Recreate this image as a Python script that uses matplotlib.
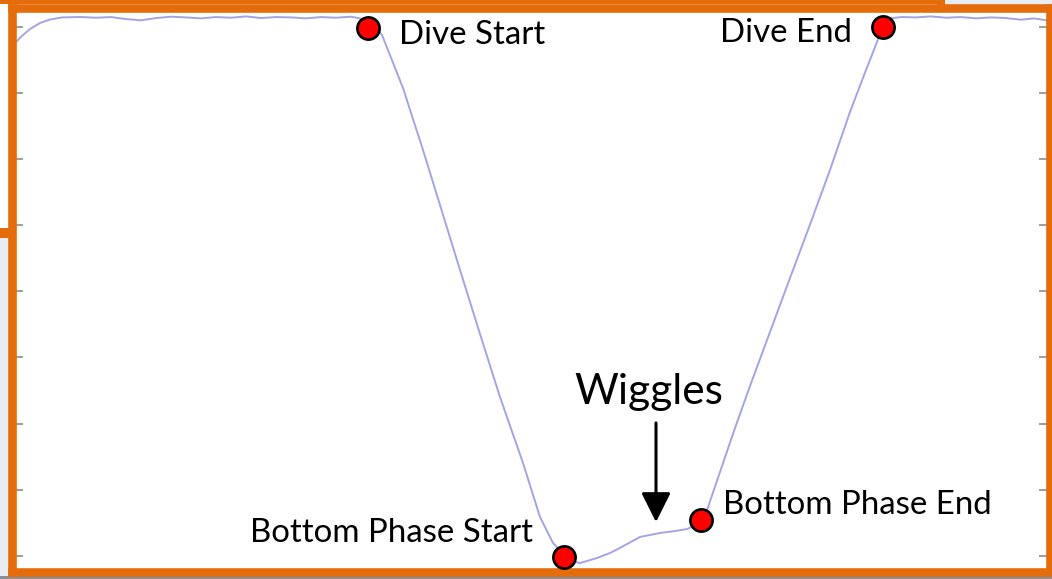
import matplotlib
matplotlib.use("Agg")
import matplotlib.pyplot as plt
from matplotlib.patches import Rectangle

plt.rcParams["font.family"] = ["Lato", "DejaVu Sans"]

# dive profile: time (s) vs depth (m)
time = [0, 6, 14, 24, 34, 46, 64, 80, 95, 110, 125, 140, 155, 170, 185, 200,
        215, 230, 245, 260, 275, 290, 305, 320, 335, 344, 356, 366, 387, 407,
        424, 444, 464, 484, 507, 524, 537, 547, 556, 564, 581, 594, 604, 624,
        644, 659, 671, 684, 691, 704, 719, 734, 754, 774, 792, 814, 834, 850,
        861, 866, 870, 885, 900, 915, 930, 945, 960, 975, 990, 1005, 1018, 1031]
depth = [2.27, 1.36, 0.30, -0.6, -1.13, -1.44, -1.51, -1.4, -1.5, -1.2, -1.0,
         -1.35, -1.55, -1.45, -1.3, -1.5, -1.4, -1.6, -1.35, -1.5, -1.45, -1.3,
         -1.5, -1.4, -1.55, -1.3, -0.5, 1.21, 9.23, 18.61, 26.93, 36.76, 46.44,
         55.98, 65.96, 74.13, 78.06, 79.58, 80.79, 81.1, 80.33, 79.58, 78.8,
         77.15, 76.55, 76.25, 75.95, 75.04, 73.07, 67.32, 60.67, 54.31, 46.14,
         37.97, 30.71, 21.63, 12.86, 6.51, 2.27, 0.15, -1.2, -1.5, -1.45, -1.6,
         -1.4, -1.5, -1.3, -1.45, -1.35, -1.1, -1.3, -1.0]

# phase events
event_names = ["Dive Start", "Bottom Phase Start", "Bottom Phase End", "Dive End"]
event_time = [352, 548, 685, 867]
event_depth = [0.15, 80.2, 74.6, 0.0]
label_offset = [(22, -11.5), (-22, 11), (16, 4.5), (-22, -11)]
label_ha = ["left", "right", "left", "right"]

wiggle_time = 640
wiggle_tip = 74.9
wiggle_tail = 59.9
wiggle_text_depth = 57.0

orange = "#e46c0a"
W, H = 1052, 579

fig = plt.figure(figsize=(W / 100, H / 100), dpi=100, facecolor="#e9edf2")

def px(x0, y0, x1, y1, **kw):
    # rectangle given in image pixels (top-left origin)
    return Rectangle((x0 / W, 1 - y1 / H), (x1 - x0) / W, (y1 - y0) / H,
                     transform=fig.transFigure, **kw)

# bits of the slide behind the chart
fig.add_artist(px(0, 0, 940, 228, facecolor="white", edgecolor="none"))
fig.add_artist(px(0, 0, 940, 4, facecolor=orange, edgecolor="none"))
fig.add_artist(px(937, 0, 945, 8, facecolor=orange, edgecolor="none"))
fig.add_artist(px(0, 228, 10, 238, facecolor=orange, edgecolor="none"))
fig.add_artist(px(0, 576, W, H, facecolor="#8a8f96", edgecolor="none"))

ax = fig.add_axes([12 / W, 1 - 572 / H, 1037.5 / W, 564 / H], zorder=2)
ax.set_facecolor("white")

ax.plot(time, depth, color="#a4a4e4", lw=1.4, zorder=2)
ax.plot(event_time, event_depth, "o", ms=16, mfc="red", mec="black",
        mew=1.9, ls="none", zorder=4, clip_on=False)

for name, t, d, off, ha in zip(event_names, event_time, event_depth,
                               label_offset, label_ha):
    ax.annotate(name, (t, d), xytext=off, textcoords="offset points",
                ha=ha, va="baseline", fontsize=23.8, color="black", zorder=5)

ax.annotate("", xy=(wiggle_time, wiggle_tip), xytext=(wiggle_time, wiggle_tail),
            arrowprops=dict(arrowstyle="-|>,head_width=0.45,head_length=0.9",
                            mutation_scale=20, lw=2.2, color="black",
                            shrinkA=0, shrinkB=0))
ax.text(wiggle_time - 7, wiggle_text_depth, "Wiggles", ha="center",
        va="baseline", fontsize=30.5, color="black")

ax.set_xlim(-4, 1033.5)
ax.set_ylim(82.45, -2.87)
ax.set_yticks(range(0, 81, 10))
ax.set_xticks([])
ax.tick_params(axis="y", direction="in", length=8, width=1.5,
               color="#a0a0a0", left=True, right=True,
               labelleft=False, labelright=False)
for s in ax.spines.values():
    s.set_color(orange)
    s.set_linewidth(6.2)

fig.savefig("out.png", dpi=100, facecolor=fig.get_facecolor())
